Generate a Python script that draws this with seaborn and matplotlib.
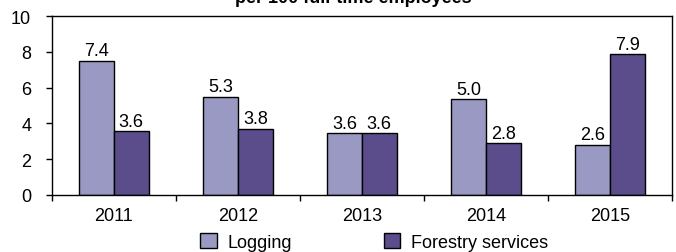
import pandas as pd
import matplotlib
matplotlib.use("Agg")
import matplotlib.pyplot as plt
import seaborn as sns

years = ["2011", "2012", "2013", "2014", "2015"]
# bar heights as drawn in the picture
logging = [7.5, 5.5, 3.45, 5.35, 2.8]
forestry = [3.55, 3.7, 3.45, 2.9, 7.85]
# value labels printed above the bars
logging_labels = ["7.4", "5.3", "3.6", "5.0", "2.6"]
forestry_labels = ["3.6", "3.8", "3.6", "2.8", "7.9"]
series = ["Logging", "Forestry services"]
colors = ["#9999C3", "#5B4D8C"]

df = pd.DataFrame({
    "year": years * 2,
    "value": logging + forestry,
    "series": [series[0]] * 5 + [series[1]] * 5,
})

sns.set_style("white")
plt.rcParams["font.family"] = ["Liberation Sans", "DejaVu Sans"]
plt.rcParams["font.size"] = 13
plt.rcParams["text.color"] = "black"
plt.rcParams["xtick.color"] = "black"
plt.rcParams["ytick.color"] = "black"

fig = plt.figure(figsize=(6.76, 2.53), dpi=100)
ax = fig.add_axes([0.0769, 0.2253, 0.917, 0.7075])

sns.barplot(data=df, x="year", y="value", hue="series", palette=colors,
            width=0.56, edgecolor="black", linewidth=1, ax=ax, saturation=1)

for container, labels in zip(ax.containers, [logging_labels, forestry_labels]):
    ax.bar_label(container, labels=labels, padding=1, fontsize=13)

ax.set_ylim(0, 10)
ax.set_xlim(-0.5, 4.5)
ax.set_yticks(range(0, 11, 2))
ax.set_xlabel("")
ax.set_ylabel("")
ax.set_xticks([0, 1, 2, 3, 4])
ax.set_xticks([-0.5, 0.5, 1.5, 2.5, 3.5, 4.5], minor=True)
ax.tick_params(axis="x", which="major", length=0, pad=9, labelsize=13)
ax.tick_params(axis="x", which="minor", length=4, width=1, direction="out",
               bottom=True, color="black")
ax.tick_params(axis="y", length=4, width=1, direction="out", left=True,
               color="black", labelsize=13, pad=11)
for side in ax.spines.values():
    side.set_color("black")
    side.set_linewidth(1)

leg = ax.legend(loc="upper center", bbox_to_anchor=(0.52, -0.215), ncol=2,
                frameon=False, fontsize=13, handlelength=0.9, handleheight=0.9,
                columnspacing=5.1, handletextpad=0.6, borderaxespad=0,
                borderpad=0)
for h in leg.legend_handles:
    h.set_edgecolor("black")

fig.text(0.522, 0.99, "per 100 full-time employees", ha="center",
         va="baseline", fontsize=13, fontweight="bold")

fig.savefig("out.png", dpi=100)
